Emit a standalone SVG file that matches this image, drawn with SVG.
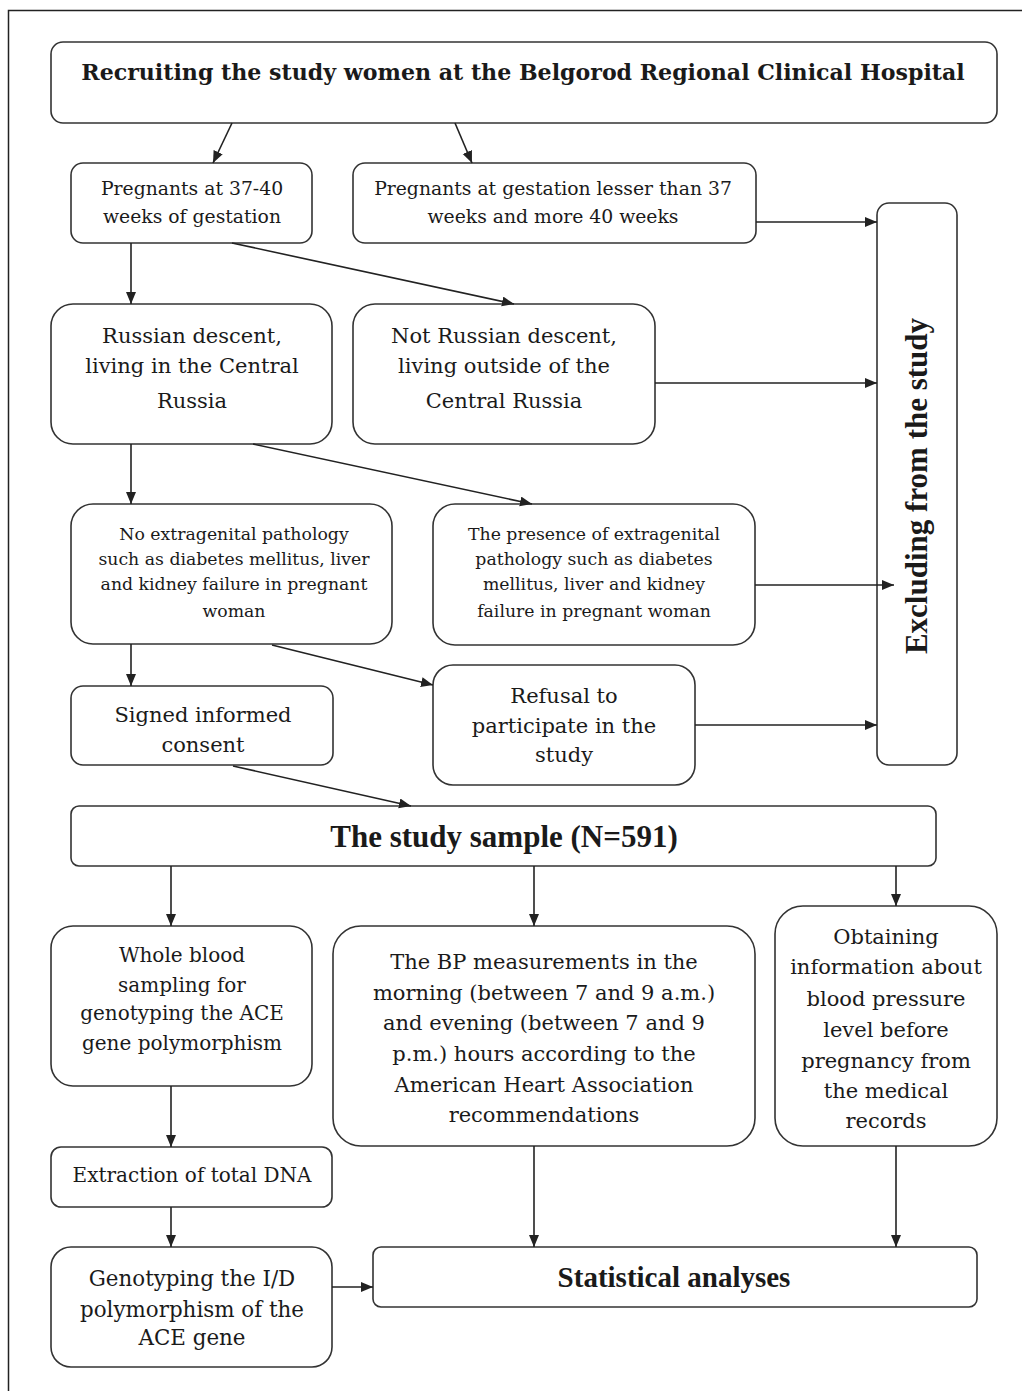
<svg xmlns="http://www.w3.org/2000/svg" width="1022" height="1391" viewBox="0 0 1022 1391">
<defs>
<style>
.bx{fill:#fff;stroke:#333;stroke-width:1.6}
.fr{stroke:#222;stroke-width:1.5;fill:none}
.cn line{stroke:#222;stroke-width:1.6;marker-end:url(#ah)}
text{fill:#1a1a1a;text-anchor:middle}
.t{font-family:"DejaVu Serif","Liberation Serif",serif;font-size:21px}
.t2{font-family:"DejaVu Serif","Liberation Serif",serif;font-size:18.8px}
.t3{font-family:"DejaVu Serif","Liberation Serif",serif;font-size:20px}
.t4{font-family:"DejaVu Serif","Liberation Serif",serif;font-size:21.4px}
.s{font-family:"DejaVu Serif","Liberation Serif",serif;font-size:17.3px}
.h{font-family:"DejaVu Serif","Liberation Serif",serif;font-size:22.1px;font-weight:bold}
.b{font-family:"Liberation Serif","Times New Roman",serif;font-size:31px;font-weight:bold}
.b2{font-family:"Liberation Serif","Times New Roman",serif;font-size:29px;font-weight:bold}
</style>
<marker id="ah" markerUnits="userSpaceOnUse" markerWidth="13" markerHeight="11" refX="12" refY="5" orient="auto">
<path d="M0,0 L12,5 L0,10 z" fill="#222"/>
</marker>
</defs>
<rect width="1022" height="1391" fill="#fff"/>
<path class="fr" d="M1022,10.5 H8.5 V1391"/>

<g id="recruiting">
<rect class="bx" x="51" y="42" width="946" height="81" rx="12"/>
<text class="h" x="523" y="80">Recruiting the study women at the Belgorod Regional Clinical Hospital</text>
</g>
<g id="pregnants-37-40">
<rect class="bx" x="71" y="163" width="241" height="80" rx="12"/>
<text class="t2" x="192" y="195">Pregnants at 37-40</text>
<text class="t2" x="192" y="223">weeks of gestation</text>
</g>
<g id="pregnants-other">
<rect class="bx" x="353" y="163" width="403" height="80" rx="12"/>
<text class="t2" x="553" y="195">Pregnants at gestation lesser than 37</text>
<text class="t2" x="553" y="223">weeks and more 40 weeks</text>
</g>
<g id="russian">
<rect class="bx" x="51" y="304" width="281" height="140" rx="22"/>
<text class="t" x="192" y="343">Russian descent,</text>
<text class="t" x="192" y="373">living in the Central</text>
<text class="t" x="192" y="408">Russia</text>
</g>
<g id="not-russian">
<rect class="bx" x="353" y="304" width="302" height="140" rx="22"/>
<text class="t" x="504" y="343">Not Russian descent,</text>
<text class="t" x="504" y="373">living outside of the</text>
<text class="t" x="504" y="408">Central Russia</text>
</g>
<g id="excluding">
<rect class="bx" x="877" y="203" width="80" height="562" rx="12"/>
<text class="b" transform="translate(927,486) rotate(-90)">Excluding from the study</text>
</g>
<g id="no-pathology">
<rect class="bx" x="71" y="504" width="321" height="140" rx="22"/>
<text class="s" x="234" y="540">No extragenital pathology</text>
<text class="s" x="234" y="565">such as diabetes mellitus, liver</text>
<text class="s" x="234" y="590">and kidney failure in pregnant</text>
<text class="s" x="234" y="617">woman</text>
</g>
<g id="pathology">
<rect class="bx" x="433" y="504" width="322" height="141" rx="22"/>
<text class="s" x="594" y="540">The presence of extragenital</text>
<text class="s" x="594" y="565">pathology such as diabetes</text>
<text class="s" x="594" y="590">mellitus, liver and kidney</text>
<text class="s" x="594" y="617">failure in pregnant woman</text>
</g>
<g id="consent">
<rect class="bx" x="71" y="686" width="262" height="79" rx="12"/>
<text class="t" x="203" y="722">Signed informed</text>
<text class="t" x="203" y="752">consent</text>
</g>
<g id="refusal">
<rect class="bx" x="433" y="665" width="262" height="120" rx="20"/>
<text class="t" x="564" y="703">Refusal to</text>
<text class="t" x="564" y="733">participate in the</text>
<text class="t" x="564" y="762">study</text>
</g>
<g id="sample">
<rect class="bx" x="71" y="806" width="865" height="60" rx="8"/>
<text class="b" x="504" y="847">The study sample (N=591)</text>
</g>
<g id="blood">
<rect class="bx" x="51" y="926" width="261" height="160" rx="22"/>
<text class="t3" x="182" y="962">Whole blood</text>
<text class="t3" x="182" y="992">sampling for</text>
<text class="t3" x="182" y="1020">genotyping the ACE</text>
<text class="t3" x="182" y="1050">gene polymorphism</text>
</g>
<g id="bp">
<rect class="bx" x="333" y="926" width="422" height="220" rx="28"/>
<text class="t" x="544" y="969">The BP measurements in the</text>
<text class="t" x="544" y="1000">morning (between 7 and 9 a.m.)</text>
<text class="t" x="544" y="1030">and evening (between 7 and 9</text>
<text class="t" x="544" y="1061">p.m.) hours according to the</text>
<text class="t" x="544" y="1092">American Heart Association</text>
<text class="t" x="544" y="1122">recommendations</text>
</g>
<g id="obtaining">
<rect class="bx" x="775" y="906" width="222" height="240" rx="28"/>
<text class="t" x="886" y="944">Obtaining</text>
<text class="t" x="886" y="974">information about</text>
<text class="t" x="886" y="1006">blood pressure</text>
<text class="t" x="886" y="1037">level before</text>
<text class="t" x="886" y="1068">pregnancy from</text>
<text class="t" x="886" y="1098">the medical</text>
<text class="t" x="886" y="1128">records</text>
</g>
<g id="dna">
<rect class="bx" x="51" y="1147" width="281" height="60" rx="10"/>
<text class="t3" x="192" y="1182">Extraction of total DNA</text>
</g>
<g id="genotyping">
<rect class="bx" x="51" y="1247" width="281" height="120" rx="20"/>
<text class="t4" x="192" y="1286">Genotyping the I/D</text>
<text class="t4" x="192" y="1317">polymorphism of the</text>
<text class="t4" x="192" y="1345">ACE gene</text>
</g>
<g id="statistics">
<rect class="bx" x="373" y="1247" width="604" height="60" rx="8"/>
<text class="b2" x="674" y="1287">Statistical analyses</text>
</g>

<g id="connectors" class="cn">
<line x1="232" y1="123" x2="213" y2="163"/>
<line x1="455" y1="123" x2="472" y2="163"/>
<line x1="131" y1="243" x2="131" y2="304"/>
<line x1="232" y1="243" x2="514" y2="304"/>
<line x1="756" y1="222" x2="877" y2="222"/>
<line x1="655" y1="383" x2="877" y2="383"/>
<line x1="131" y1="444" x2="131" y2="504"/>
<line x1="253" y1="444" x2="532" y2="504"/>
<line x1="755" y1="585" x2="894" y2="585"/>
<line x1="131" y1="644" x2="131" y2="686"/>
<line x1="272" y1="645" x2="433" y2="685"/>
<line x1="695" y1="725" x2="877" y2="725"/>
<line x1="233" y1="766" x2="411" y2="806"/>
<line x1="171" y1="866" x2="171" y2="926"/>
<line x1="534" y1="866" x2="534" y2="926"/>
<line x1="896" y1="866" x2="896" y2="906"/>
<line x1="171" y1="1086" x2="171" y2="1147"/>
<line x1="171" y1="1207" x2="171" y2="1247"/>
<line x1="332" y1="1287" x2="373" y2="1287"/>
<line x1="534" y1="1146" x2="534" y2="1247"/>
<line x1="896" y1="1146" x2="896" y2="1247"/>
</g>
</svg>
